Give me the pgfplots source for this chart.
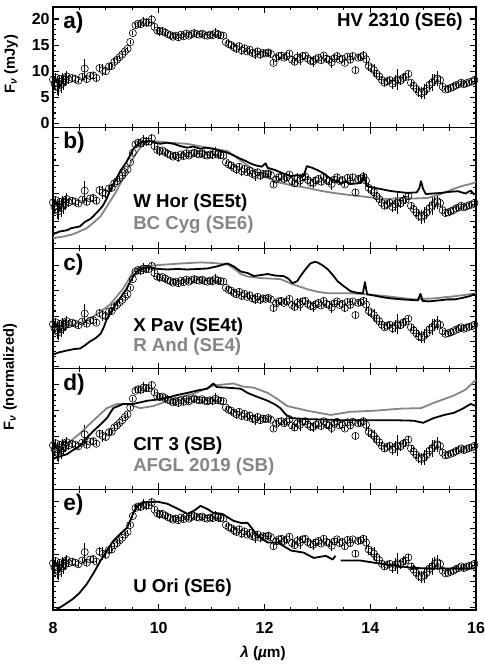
\documentclass[border=0pt]{standalone}
\usepackage{fontspec}
\setmainfont{Liberation Sans}
\usepackage{pgfplots}
\usepackage{pgfplotstable}
\pgfplotsset{compat=1.18}
\definecolor{cGrey}{HTML}{858585}

% HV 2310 spectrum (mJy), shared by all panels
\pgfplotstableread{
x y e
8.00 8.4 1.0
8.03 7.6 1.2
8.05 8.8 0.8
8.08 7.2 1.8
8.10 6.8 1.5
8.13 8.0 1.2
8.15 7.4 1.6
8.18 8.6 1.0
8.20 7.8 1.4
8.23 8.3 1.2
8.26 9.0 1.0
8.30 8.4 0.8
8.36 8.7 0.6
8.42 8.5 0.6
8.48 8.2 0.5
8.55 8.9 0.5
8.60 10.5 1.8
8.64 8.5 0.6
8.70 9.1 0.5
8.76 9.2 0.6
8.82 8.7 0.5
8.88 10.6 0.8
8.94 10.2 1.2
9.00 10.0 0.8
9.06 10.9 0.6
9.11 11.0 0.6
9.16 11.8 0.5
9.21 12.2 0.5
9.26 12.7 0.4
9.31 13.2 0.4
9.36 13.8 0.4
9.41 14.3 0.4
9.46 15.6 0.4
9.51 17.3 0.4
9.56 18.8 0.5
9.61 19.1 0.6
9.66 19.0 0.8
9.71 19.4 1.0
9.76 19.3 0.8
9.81 19.3 0.6
9.87 19.9 0.8
9.92 18.5 0.5
9.97 17.8 0.6
10.02 17.6 0.8
10.07 17.7 0.5
10.12 17.4 0.6
10.17 17.1 0.5
10.22 16.9 0.6
10.27 16.6 0.5
10.32 16.8 0.6
10.37 16.5 0.8
10.42 17.0 0.5
10.47 16.7 0.6
10.52 17.2 0.5
10.57 16.8 0.5
10.62 17.1 0.5
10.67 17.3 0.6
10.72 17.1 0.5
10.77 17.0 0.5
10.82 17.2 0.5
10.87 16.9 0.5
10.92 16.8 0.5
10.97 17.0 0.6
11.02 16.9 0.8
11.07 17.3 1.0
11.12 17.0 0.8
11.17 16.9 0.6
11.22 16.8 0.5
11.27 15.6 0.4
11.32 15.2 0.5
11.37 15.0 0.6
11.42 14.6 0.8
11.47 14.3 0.8
11.52 14.8 0.6
11.57 14.0 0.8
11.62 14.4 0.6
11.67 13.8 0.5
11.72 14.1 0.6
11.77 13.5 0.8
11.82 13.3 1.0
11.87 13.8 0.6
11.92 13.2 0.8
11.97 13.5 0.6
12.02 13.4 0.5
12.07 13.6 0.6
12.12 13.3 0.5
12.17 11.6 0.5
12.22 12.5 0.6
12.27 12.9 0.5
12.32 13.0 0.6
12.37 12.6 0.5
12.42 12.9 0.6
12.47 13.4 0.5
12.52 12.2 0.5
12.57 11.8 0.6
12.62 12.6 1.0
12.67 12.3 1.2
12.72 12.9 0.6
12.77 13.0 0.5
12.82 12.4 0.6
12.87 12.0 0.8
12.92 11.9 1.0
12.97 12.3 0.6
13.02 12.6 0.5
13.07 12.1 0.5
13.12 13.0 0.5
13.17 12.4 0.8
13.22 12.2 0.6
13.27 11.7 1.0
13.32 12.5 0.6
13.37 12.9 0.5
13.42 12.2 0.5
13.47 12.4 0.6
13.52 11.6 0.5
13.57 12.8 0.5
13.62 12.2 0.6
13.67 12.9 0.5
13.72 10.2 0.6
13.77 12.6 0.5
13.82 12.7 0.6
13.87 13.0 0.8
13.92 12.3 1.2
13.97 11.0 1.0
14.02 10.6 0.8
14.07 10.2 1.2
14.12 9.5 0.8
14.17 9.0 0.6
14.22 8.3 0.6
14.27 7.8 0.6
14.32 8.1 0.8
14.37 8.3 0.6
14.42 7.6 1.0
14.47 8.1 1.2
14.52 8.4 2.0
14.57 8.2 0.8
14.62 8.7 1.0
14.67 8.9 0.6
14.72 9.5 0.6
14.77 7.8 0.6
14.82 7.2 0.8
14.87 6.6 0.8
14.92 6.0 1.0
14.97 5.8 1.2
15.02 6.1 1.4
15.07 6.6 1.2
15.12 7.4 1.0
15.17 7.8 1.6
15.22 8.3 1.2
15.27 8.6 1.4
15.32 8.3 0.8
15.37 7.0 0.5
15.42 6.5 0.5
15.47 6.6 0.5
15.52 6.8 0.5
15.57 7.0 0.5
15.62 7.3 0.5
15.67 7.5 0.5
15.72 7.8 0.5
15.77 7.5 0.5
15.82 7.7 0.5
15.87 7.9 0.5
15.92 8.0 0.5
15.97 8.3 0.5
}\hvdata

\pgfplotsset{
    panel/.style={
        at={(39.75pt,#1)}, anchor=south west,
        scale only axis, width=317.25pt, height=90.45pt,
        xmin=8, xmax=16,
        xtick={8,10,12,14,16}, minor x tick num=3,
        xtick pos=both, ytick pos=both,
        xticklabels={}, yticklabels={},
        ytick={0,5,10,15,20}, minor y tick num=4,
        major tick length=4.5pt, minor tick length=2.4pt,
        tick style={line width=0.8pt, black},
        axis line style={line width=1pt},
        every tick label/.append style={font=\fontsize{12}{14}\selectfont\bfseries},
        /pgf/number format/assume math mode=true,
    },
    hv/.style={only marks, mark=o, mark size=2.7pt, black,
        mark options={line width=0.45pt},
        error bars/.cd, y dir=both, y explicit, error mark=none,
        error bar style={line width=0.6pt, black}},
    blk/.style={black, line width=1.35pt, line join=round, no marks},
    gry/.style={cGrey, line width=1.35pt, line join=round, no marks},
}
\tikzset{
    lab/.style={font=\fontsize{17}{19}\selectfont\bfseries, anchor=west, inner sep=0pt},
    nam/.style={font=\fontsize{14}{16}\selectfont\bfseries, anchor=west, inner sep=0pt},
}

\begin{document}
\begin{tikzpicture}
\path[use as bounding box] (0,0) rectangle (363.75pt,503.25pt);

% a) HV 2310
\begin{axis}[panel=407.55pt, ymin=-0.8, ymax=22.3,
    yticklabels={0,5,10,15,20}, yticklabel style={xshift=1pt}]
\addplot[hv] table[x=x, y=y, y error=e] {\hvdata};
\end{axis}

% b) W Hor, BC Cyg
\begin{axis}[panel=317.1pt, ymin=0.2, ymax=21.8]
\addplot[hv] table[x=x, y=y, y error=e] {\hvdata};
\addplot[gry] coordinates {
(8.0,2.0)(8.2,2.3)(8.38,2.7)(8.5,3.2)(8.64,3.8)(8.77,4.8)(8.9,5.9)(9.0,7.4)(9.08,8.6)
(9.18,10.1)(9.27,11.7)(9.37,13.6)(9.46,15.3)(9.55,16.9)(9.65,18.2)(9.75,19.0)(9.84,19.4)
(10.0,19.3)(10.16,19.1)(10.35,19.0)(10.54,18.9)(10.75,18.5)(10.92,18.2)(11.1,17.9)(11.3,17.6)
(11.42,16.8)(11.55,15.9)(11.7,14.9)(11.93,13.5)(12.1,12.6)(12.3,11.9)(12.55,11.4)(12.81,11.0)
(13.05,10.5)(13.3,10.1)(13.55,9.8)(13.82,9.5)(14.1,9.2)(14.33,9.0)(14.6,9.2)(14.82,9.1)
(15.09,9.2)(15.3,9.8)(15.47,10.4)(15.6,10.9)(15.72,11.3)(15.85,11.6)(15.96,11.9)(16,12.1)};
\addplot[blk] coordinates {
(8.0,2.7)(8.13,3.2)(8.26,3.4)(8.35,3.8)(8.51,4.1)(8.6,4.9)(8.7,5.4)(8.76,5.9)(8.89,7.2)
(8.95,7.9)(9.02,9.2)(9.08,10.6)(9.14,11.7)(9.2,12.6)(9.27,14.0)(9.33,14.8)(9.4,15.8)
(9.46,16.9)(9.52,18.0)(9.58,18.6)(9.65,19.1)(9.75,19.3)(9.84,19.4)(9.93,19.1)(10.03,18.9)
(10.15,19.1)(10.28,18.9)(10.4,18.5)(10.54,18.2)(10.65,18.4)(10.79,18.0)(10.9,18.2)(11.03,18.0)
(11.15,17.7)(11.3,17.3)(11.42,16.8)(11.55,16.2)(11.65,15.8)(11.75,15.3)(11.85,15.0)(11.95,14.8)
(12.02,15.4)(12.06,14.6)(12.2,14.2)(12.35,13.6)(12.5,13.1)(12.62,13.3)(12.74,13.1)(12.8,14.9)
(12.9,14.6)(13.0,14.2)(13.1,13.7)(13.2,13.0)(13.3,12.4)(13.44,11.9)(13.55,12.1)(13.63,11.7)
(13.75,11.8)(13.83,11.9)(13.88,13.4)(13.92,11.6)(13.95,11.3)(14.08,11.0)(14.2,10.8)(14.35,10.5)
(14.5,10.3)(14.71,10.1)(14.88,10.2)(14.93,11.0)(14.96,12.2)(15.0,10.8)(15.05,9.9)(15.2,10.0)
(15.34,10.1)(15.5,10.3)(15.66,10.4)(15.8,10.0)(15.9,10.5)(15.96,9.9)(16,10.0)};
\end{axis}

% c) X Pav, R And
\begin{axis}[panel=226.65pt, ymin=-0.4, ymax=23.4]
\addplot[hv] table[x=x, y=y, y error=e] {\hvdata};
\addplot[gry] coordinates {
(8.0,7.5)(8.2,7.9)(8.38,8.3)(8.55,8.8)(8.76,9.9)(8.9,10.9)(9.08,12.3)(9.2,13.8)(9.33,15.5)
(9.43,17.2)(9.52,18.8)(9.62,19.5)(9.71,19.8)(9.9,20.0)(10.16,20.2)(10.45,20.4)(10.79,20.6)
(11.0,20.5)(11.3,20.2)(11.45,19.2)(11.55,18.3)(11.68,17.8)(11.93,17.5)(12.3,17.3)(12.53,16.3)
(12.81,15.3)(13.0,14.8)(13.2,14.5)(13.63,14.5)(13.95,14.3)(14.33,13.9)(14.82,13.3)(15.2,13.5)
(15.58,13.9)(15.8,14.2)(16,14.5)};
\addplot[blk] coordinates {
(8.0,2.4)(8.1,2.8)(8.26,3.2)(8.4,3.5)(8.51,3.6)(8.6,4.2)(8.7,5.0)(8.8,5.6)(8.9,6.5)
(8.96,7.8)(9.02,9.5)(9.08,10.6)(9.14,11.5)(9.2,12.5)(9.27,13.5)(9.33,14.5)(9.4,15.5)
(9.46,16.8)(9.52,17.9)(9.58,18.7)(9.65,19.2)(9.75,19.5)(9.84,19.6)(10.0,19.3)(10.16,19.2)
(10.35,19.3)(10.54,19.2)(10.75,19.3)(10.92,19.4)(11.1,19.8)(11.3,20.4)(11.42,19.8)(11.55,18.8)
(11.68,18.5)(11.8,17.9)(11.93,18.1)(12.06,18.3)(12.2,18.0)(12.36,17.9)(12.45,17.4)(12.53,16.5)
(12.62,16.9)(12.68,17.9)(12.78,19.3)(12.87,20.4)(12.95,20.7)(13.0,20.6)(13.1,20.0)(13.2,19.2)
(13.3,18.0)(13.38,16.9)(13.5,15.9)(13.63,14.9)(13.75,14.6)(13.86,14.5)(13.9,16.7)(13.94,14.3)
(14.1,14.0)(14.25,13.7)(14.39,13.5)(14.6,13.3)(14.75,13.2)(14.9,13.1)(14.95,14.4)(14.99,13.0)
(15.1,12.9)(15.3,13.1)(15.47,13.3)(15.6,13.3)(15.75,13.6)(15.9,14.0)(15.96,14.3)(16,14.2)};
\end{axis}

% d) CIT 3, AFGL 2019
\begin{axis}[panel=136.2pt, ymin=0, ymax=23.0]
\addplot[hv] table[x=x, y=y, y error=e] {\hvdata};
\addplot[gry] coordinates {
(8.0,7.3)(8.26,8.6)(8.51,10.7)(8.76,13.1)(9.02,15.5)(9.21,16.3)(9.4,16.3)(9.65,15.5)
(9.9,15.9)(10.28,17.3)(10.65,18.2)(11.03,19.8)(11.41,20.2)(11.6,19.6)(11.8,19.4)(12.06,18.4)
(12.25,17.2)(12.43,15.9)(12.81,15.0)(13.25,14.2)(13.63,14.8)(14.07,15.0)(14.58,15.4)
(14.96,15.5)(15.2,16.5)(15.58,17.9)(15.8,19.0)(16,20.9)};
\addplot[blk] coordinates {
(8.0,5.8)(8.1,6.2)(8.26,6.7)(8.38,7.5)(8.51,8.3)(8.64,9.8)(8.76,11.1)(8.9,12.4)(9.02,13.6)
(9.14,15.5)(9.33,16.3)(9.52,16.3)(9.78,16.9)(9.95,17.1)(10.16,17.5)(10.35,18.0)(10.54,18.4)
(10.75,18.9)(10.92,19.2)(11.03,20.2)(11.1,19.5)(11.3,19.4)(11.55,19.2)(11.68,18.4)(11.8,17.9)
(12.06,16.9)(12.2,16.2)(12.3,15.5)(12.4,14.3)(12.5,13.6)(12.81,13.4)(13.2,13.3)(13.44,13.2)
(13.9,13.2)(14.44,13.2)(14.82,13.1)(15.0,12.7)(15.2,13.6)(15.4,14.2)(15.58,14.6)(15.75,15.4)
(15.9,16.3)(16,15.9)};
\end{axis}

% e) U Ori
\begin{axis}[panel=45.75pt, ymin=-0.4, ymax=22.3,
    xticklabels={8,10,12,14,16}, xticklabel style={yshift=-5.5pt}]
\addplot[hv] table[x=x, y=y, y error=e] {\hvdata};
\addplot[blk] coordinates {
(8.02,-0.6)(8.2,0.5)(8.38,1.7)(8.5,2.8)(8.64,4.5)(8.77,6.6)(8.9,8.9)(9.02,10.8)(9.14,12.6)
(9.27,13.9)(9.4,15.1)(9.46,16.4)(9.52,17.9)(9.59,19.2)(9.71,19.8)(9.97,20.0)(10.16,19.6)
(10.35,18.7)(10.54,17.7)(10.67,18.3)(10.79,19.2)(10.92,18.6)(11.03,17.9)(11.2,17.7)(11.41,16.4)
(11.55,16.0)(11.68,16.0)(11.87,13.6)(12.06,12.3)(12.25,12.3)(12.5,10.8)(12.74,10.4)(12.93,9.4)
(13.16,9.8)(13.29,9.1)(13.34,9.8)};
\addplot[blk] coordinates {
(13.44,8.9)(13.82,8.9)(14.33,8.1)(14.82,7.5)(15.34,7.4)(16,7.4)};
\end{axis}

% panel letters and star names
\node[lab] at (47.25pt,486pt) {a)};
\node[lab] at (47.25pt,396pt) {b)};
\node[lab] at (47.25pt,304.5pt) {c)};
\node[lab] at (47.25pt,214.5pt) {d)};
\node[lab] at (47.25pt,124.5pt) {e)};
\node[nam, anchor=east] at (347.25pt,486.75pt) {HV 2310 (SE6)};
\node[nam] at (99.75pt,351pt) {W Hor (SE5t)};
\node[nam, text=cGrey] at (99.75pt,334.5pt) {BC Cyg (SE6)};
\node[nam] at (99.75pt,258pt) {X Pav (SE4t)};
\node[nam, text=cGrey] at (99.75pt,243pt) {R And (SE4)};
\node[nam] at (99.75pt,168.75pt) {CIT 3 (SB)};
\node[nam, text=cGrey] at (99.75pt,153pt) {AFGL 2019 (SB)};
\node[nam] at (99.75pt,62.25pt) {U Ori (SE6)};

% axis titles
\node[rotate=90, font=\fontsize{11}{13}\selectfont\bfseries] at (8.25pt,455pt)
    {F\textsubscript{\itshape ν} (mJy)};
\node[rotate=90, font=\fontsize{11}{13}\selectfont\bfseries] at (7.5pt,220.5pt)
    {F\textsubscript{\itshape ν} (normalized)};
\node[font=\fontsize{11.5}{13}\selectfont\bfseries] at (197.25pt,13.5pt)
    {{\itshape λ} ({\itshape µ}m)};
\end{tikzpicture}
\end{document}
